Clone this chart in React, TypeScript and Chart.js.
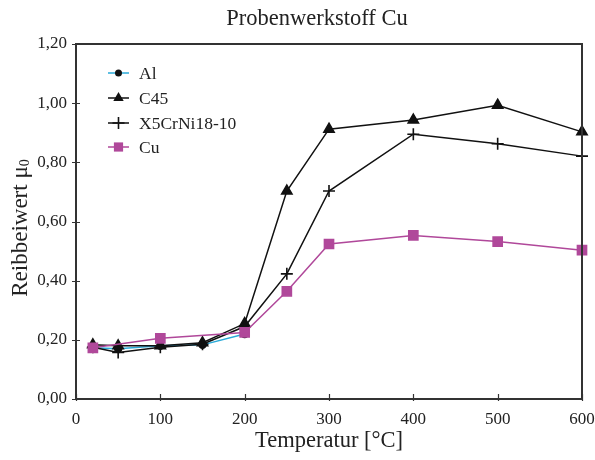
import React, { useEffect, useRef } from "react";
import { Chart, registerables } from "chart.js";

Chart.register(...registerables);

const titleText = "Probenwerkstoff Cu";
const xTitle = "Temperatur [°C]";
const yTitleMain = "Reibbeiwert μ";
const yTitleSub = "0";

const alX = [20, 50, 100, 150, 200];
const alY = [0.173, 0.17, 0.18, 0.183, 0.22];

const c45X = [20, 50, 100, 150, 200, 250, 300, 400, 500, 600];
const c45Y = [0.183, 0.18, 0.18, 0.19, 0.255, 0.703, 0.912, 0.943, 0.993, 0.903];

const x5X = [20, 50, 100, 150, 200, 250, 300, 400, 500, 600];
const x5Y = [0.175, 0.157, 0.175, 0.185, 0.245, 0.423, 0.703, 0.895, 0.863, 0.821];

const cuX = [20, 100, 200, 250, 300, 400, 500, 600];
const cuY = [0.173, 0.205, 0.225, 0.364, 0.524, 0.553, 0.532, 0.503];

const seriesNames = ["Al", "C45", "X5CrNi18-10", "Cu"];

const FONT = "'Liberation Serif', 'Times New Roman', serif";
const TXT = "#222";
const AXIS = "#333";
const CYAN = "#2aaad8";
const MAG = "#b0489a";

function pts(xs: number[], ys: number[]) {
  return xs.map((x, i) => ({ x, y: ys[i] }));
}

function drawMarker(ctx: CanvasRenderingContext2D, style: string, x: number, y: number, r: number, color: string) {
  ctx.save();
  ctx.fillStyle = color;
  ctx.strokeStyle = color;
  ctx.beginPath();
  if (style === "circle") {
    ctx.arc(x, y, r, 0, Math.PI * 2);
    ctx.fill();
  } else if (style === "triangle") {
    ctx.moveTo(x, y - r);
    ctx.lineTo(x + r * 0.866, y + r * 0.5);
    ctx.lineTo(x - r * 0.866, y + r * 0.5);
    ctx.closePath();
    ctx.fill();
  } else if (style === "cross") {
    ctx.lineWidth = 1.6;
    ctx.moveTo(x - r, y);
    ctx.lineTo(x + r, y);
    ctx.moveTo(x, y - r);
    ctx.lineTo(x, y + r);
    ctx.stroke();
  } else {
    const s = r * Math.SQRT1_2;
    ctx.fillRect(x - s, y - s, 2 * s, 2 * s);
  }
  ctx.restore();
}

const decorPlugin = {
  id: "decor",
  afterDraw(chart: any) {
    const { ctx, chartArea } = chart;
    const { left, right, top, bottom } = chartArea;
    const xs = chart.scales.x;
    const ys = chart.scales.y;
    ctx.save();
    ctx.strokeStyle = AXIS;
    ctx.lineWidth = 2;
    ctx.beginPath();
    ctx.moveTo(left, top);
    ctx.lineTo(right, top);
    ctx.lineTo(right, bottom);
    ctx.stroke();
    ctx.lineWidth = 1.2;
    ctx.beginPath();
    xs.ticks.forEach((t: any) => {
      const px = Math.round(xs.getPixelForValue(t.value)) + 0.5;
      ctx.moveTo(px, bottom - 5);
      ctx.lineTo(px, bottom + 2);
    });
    ys.ticks.forEach((t: any) => {
      const py = Math.round(ys.getPixelForValue(t.value)) + 0.5;
      ctx.moveTo(left - 4, py);
      ctx.lineTo(left + 4, py);
    });
    ctx.stroke();
    ctx.fillStyle = TXT;
    ctx.textAlign = "center";
    ctx.textBaseline = "middle";
    ctx.font = `22.5px ${FONT}`;
    ctx.fillText(titleText, 317, 19);
    ctx.font = `22.5px ${FONT}`;
    ctx.fillText(xTitle, (left + right) / 2, 441);
    ctx.save();
    ctx.font = `23px ${FONT}`;
    const wMain = ctx.measureText(yTitleMain).width;
    ctx.font = `14px ${FONT}`;
    const wSub = ctx.measureText(yTitleSub).width;
    const total = wMain + wSub;
    ctx.translate(27, 228);
    ctx.rotate(-Math.PI / 2);
    ctx.textAlign = "left";
    ctx.textBaseline = "alphabetic";
    ctx.font = `23px ${FONT}`;
    ctx.fillText(yTitleMain, -total / 2, 0);
    ctx.font = `14px ${FONT}`;
    ctx.fillText(yTitleSub, -total / 2 + wMain, 2);
    ctx.restore();
    const ds = chart.data.datasets;
    const ly = [73, 98, 123, 147];
    ctx.font = `17.5px ${FONT}`;
    ctx.textAlign = "left";
    ctx.textBaseline = "middle";
    ds.forEach((d: any, i: number) => {
      const y = ly[i];
      ctx.strokeStyle = d.borderColor;
      ctx.lineWidth = 1.5;
      ctx.beginPath();
      ctx.moveTo(108, y);
      ctx.lineTo(129, y);
      ctx.stroke();
      drawMarker(ctx, d.pointStyle, 118.5, y, d.pointRadius, d.pointBackgroundColor);
      ctx.fillStyle = TXT;
      ctx.fillText(seriesNames[i], 139, y + 1);
    });
    ctx.restore();
  },
};

export default function App() {
  const ref = useRef<HTMLCanvasElement>(null);
  useEffect(() => {
    document.body.style.margin = "0";
    const common = { borderWidth: 1.5, clip: false as any };
    const chart = new Chart(ref.current!, {
      type: "line",
      data: {
        datasets: [
          {
            ...common,
            label: seriesNames[0],
            data: pts(alX, alY),
            borderColor: CYAN,
            pointStyle: "circle",
            pointRadius: 3.5,
            pointBackgroundColor: "#111",
            pointBorderColor: "#111",
            order: 3,
          },
          {
            ...common,
            label: seriesNames[1],
            data: pts(c45X, c45Y),
            borderColor: "#111",
            pointStyle: "triangle",
            pointRadius: 6,
            pointBackgroundColor: "#111",
            pointBorderColor: "#111",
            order: 2,
          },
          {
            ...common,
            label: seriesNames[2],
            data: pts(x5X, x5Y),
            borderColor: "#111",
            pointStyle: "cross",
            pointRadius: 6,
            pointBorderWidth: 1.6,
            pointBackgroundColor: "#111",
            pointBorderColor: "#111",
            order: 1,
          },
          {
            ...common,
            label: seriesNames[3],
            data: pts(cuX, cuY),
            borderColor: MAG,
            pointStyle: "rect",
            pointRadius: 6.5,
            pointBackgroundColor: MAG,
            pointBorderColor: MAG,
            order: 0,
          },
        ],
      },
      options: {
        responsive: false,
        animation: false,
        events: [],
        layout: { padding: { top: 44, right: 13, left: 0, bottom: 0 } },
        plugins: { legend: { display: false }, title: { display: false }, tooltip: { enabled: false } },
        scales: {
          x: {
            type: "linear",
            min: 0,
            max: 600,
            grid: { display: false },
            border: { display: true, color: AXIS, width: 2 },
            ticks: { stepSize: 100, color: TXT, font: { family: FONT, size: 17 }, padding: 2, maxRotation: 0 },
            afterFit: (s: any) => { s.height = 61; s.paddingRight = 0; s.paddingLeft = 0; },
          },
          y: {
            min: 0,
            max: 1.2,
            grid: { display: false },
            border: { display: true, color: AXIS, width: 2 },
            ticks: {
              stepSize: 0.2,
              color: TXT,
              font: { family: FONT, size: 17 },
              padding: 1,
              callback: (v: any) => Number(v).toFixed(2).replace(".", ","),
            },
            afterFit: (s: any) => { s.width = 76; },
          },
        },
      },
      plugins: [decorPlugin],
    });
    return () => chart.destroy();
  }, []);
  return <canvas ref={ref} width={595} height={460} style={{ display: "block" }} />;
}
